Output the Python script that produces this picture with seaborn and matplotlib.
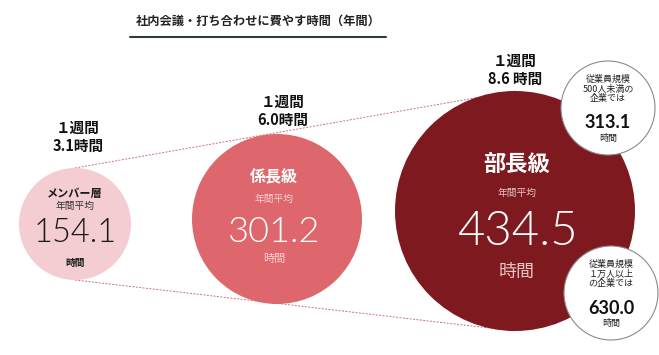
import matplotlib
matplotlib.use("Agg")
import matplotlib.pyplot as plt
import seaborn as sns
import pandas as pd

# data
levels = ['メンバー層', '係長級', '部長級']
annual_hours = [154.1, 301.2, 434.5]
weekly_hours = [3.1, 6.0, 8.6]
weekly_sep = ['', '', ' ']
company_notes = ['従業員規模\n500人未満の\n企業では', '従業員規模\n１万人以上\nの企業では']
company_hours = [313.1, 630.0]
title = '社内会議・打ち合わせに費やす時間（年間）'

# layout (pixel coords, y down)
main_xy = [(75, 224), (277, 219), (515, 211)]
main_r = [56, 85, 120]
note_xy = [(608, 108), (611, 293)]
note_r = [47, 47]
fill = ['#f3cdd1', '#de676d', '#7e1a1f']
ink = ['#1a1a1a', 'white', 'white']
sub_ink = ['#333333', '#f8d0d2', '#e6c4c4']

sns.set_theme(style='white')
plt.rcParams['font.family'] = ['Noto Sans CJK JP', 'DejaVu Sans']
JP = ['Noto Sans CJK JP', 'DejaVu Sans']
NUM = ['Lato', 'Noto Sans CJK JP', 'DejaVu Sans']


def area(r):
    # scatter size (pt^2) for a circle of radius r pixels at dpi 100
    return (2 * r * 72 / 100) ** 2


fig = plt.figure(figsize=(6.59, 3.55), dpi=100)
ax = fig.add_axes([0, 0, 1, 1])

df = pd.DataFrame({'level': levels, 'hours': annual_hours,
                   'x': [p[0] for p in main_xy], 'y': [p[1] for p in main_xy]})
sns.scatterplot(data=df, x='x', y='y', hue='level', size='level',
                palette=dict(zip(levels, fill)),
                sizes=dict(zip(levels, [area(r) for r in main_r])),
                linewidth=0, legend=False, ax=ax, zorder=2)

notes = pd.DataFrame({'note': company_notes, 'hours': company_hours,
                      'x': [p[0] for p in note_xy], 'y': [p[1] for p in note_xy]})
sns.scatterplot(data=notes, x='x', y='y', size='note',
                sizes=dict(zip(company_notes, [area(r) for r in note_r])),
                color='white', edgecolor='#8a8a8a', linewidth=0.8,
                legend=False, ax=ax, zorder=3)
ax.set_xlim(0, 659)
ax.set_ylim(355, 0)
ax.axis('off')

# dashed guide lines from smallest to largest circle
(x0, y0), (x2, y2) = main_xy[0], main_xy[2]
ax.plot([x0, x2], [y0 - main_r[0], y2 - main_r[2]], ls=(0, (2, 1.5)),
        color='#c8707a', lw=0.7, zorder=1)
ax.plot([x0, x2], [y0 + main_r[0], y2 + main_r[2]], ls=(0, (2, 1.5)),
        color='#c8707a', lw=0.7, zorder=1)

# title
ax.text(258, 21, title, ha='center', va='center', fontsize=8.8,
        fontweight='bold', color='#222222', family=JP)
ax.plot([130, 386], [37, 37], color='#2e3b40', lw=1.5)

# weekly labels above each circle
week_xy = [(78, 137), (283, 111), (515, 70)]
for (wx, wy), w, sep in zip(week_xy, weekly_hours, weekly_sep):
    ax.text(wx, wy, f'１週間\n{w:.1f}{sep}時間', ha='center', va='center',
            fontsize=10.5, fontweight='bold', color='#111111',
            linespacing=1.2, family=JP)

# circle texts
text_dx = [0, -3, 2]
name_dy = [-31, -42, -46]
name_fs = [8, 11.5, 16]
sub_dy = [-18, -20, -18]
num_dy = [9, 13, 21]
num_fs = [23.5, 26, 34]
unit_dy = [39, 40, 61]
unit_fs = [7, 8, 13]
unit_w = ['bold', 'normal', 'normal']
for i, (lv, h) in enumerate(zip(levels, annual_hours)):
    cx, cy = main_xy[i]
    cx = cx + text_dx[i]
    ax.text(cx, cy + name_dy[i], lv, ha='center', va='center', fontsize=name_fs[i],
            fontweight='bold', color=ink[i], family=JP, zorder=4)
    ax.text(cx, cy + sub_dy[i], '年間平均', ha='center', va='center', fontsize=7,
            color=sub_ink[i], family=JP, zorder=4)
    ax.text(cx, cy + num_dy[i], f'{h:.1f}', ha='center', va='center', fontsize=num_fs[i],
            fontweight=300, color=ink[i], family=NUM, zorder=4)
    ax.text(cx, cy + unit_dy[i], '時間', ha='center', va='center', fontsize=unit_fs[i],
            fontweight=unit_w[i], color=sub_ink[i] if i else ink[i], family=JP, zorder=4)

# company-size callouts
for (cx, cy), note, h in zip(note_xy, company_notes, company_hours):
    ax.text(cx, cy - 19, note, ha='center', va='center', fontsize=6.5,
            color='#222222', linespacing=1.1, family=JP, zorder=4)
    ax.text(cx, cy + 15, f'{h:.1f}', ha='center', va='center', fontsize=13,
            fontweight='bold', color='#111111', family=NUM, zorder=4)
    ax.text(cx, cy + 30, '時間', ha='center', va='center', fontsize=6.5,
            color='#222222', family=JP, zorder=4)

fig.savefig('out.png', dpi=100)
